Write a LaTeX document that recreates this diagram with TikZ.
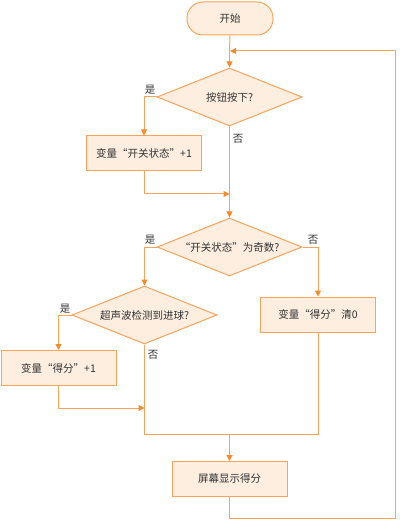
\documentclass[tikz,border=0pt]{standalone}
\usepackage{fontspec}
\setmainfont{Noto Sans CJK SC}
\usetikzlibrary{shapes.geometric,arrows.meta}
\definecolor{stk}{HTML}{F7A35C}
\definecolor{arr}{HTML}{F58A2C}
\definecolor{fil}{HTML}{FDEEE0}
\definecolor{txt}{HTML}{333333}
\begin{document}
\begin{tikzpicture}[x=1pt,y=-1pt,
  font=\fontsize{10.5}{12}\selectfont, text=txt,
  box/.style={draw=stk,fill=fil,line width=1pt,minimum width=115pt,minimum height=35pt,inner sep=0pt},
  term/.style={draw=stk,fill=fil,line width=1pt,rounded corners=16pt,minimum width=86pt,minimum height=33pt,inner sep=0pt},
  dia/.style={draw=stk,fill=fil,line width=1pt,diamond,aspect=2.5,minimum width=145pt,minimum height=58pt,inner sep=0pt},
  ln/.style={draw=stk,line width=1pt},
  ar/.style={ln,-{Triangle[length=6pt,width=6pt,color=arr]}},
  lab/.style={inner sep=0pt,font=\fontsize{10.5}{12}\selectfont}]
\useasboundingbox (0,0) rectangle (403,526);
\node[term] (start) at (230,18.5) {开始};
\node[dia] (d1) at (229.5,97) {按钮按下?};
\node[box] (b1) at (144,153.5) {变量“开关状态”+1};
\node[dia] (d2) at (229.5,247) {“开关状态”为奇数?};
\node[dia] (d3) at (144.5,315) {超声波检测到进球?};
\node[box] (b2) at (58.5,368) {变量“得分”+1};
\node[box] (b3) at (318,314.5) {变量“得分”清0};
\node[box] (b4) at (229.5,479) {屏幕显示得分};
\coordinate (j1) at (229.5,51);
\coordinate (j2) at (229.5,194);
\coordinate (j3) at (144.5,408);
\coordinate (j4) at (229.5,434);
\draw[ln] (start.south) -- (j1);
\draw[ar] (j1) -- (d1.north);
\draw[ar] (d1.west) -| (b1.north);
\draw[ln] (d1.south) -- (j2);
\draw[ar] (b1.south) |- (j2);
\draw[ar] (j2) -- (d2.north);
\draw[ar] (d2.west) -| (d3.north);
\draw[ar] (d2.east) -| (b3.north);
\draw[ar] (d3.west) -| (b2.north);
\draw[ln] (d3.south) -- (j3);
\draw[ar] (b2.south) |- (j3);
\draw[ln] (j3) |- (j4);
\draw[ln] (b3.south) |- (j4);
\draw[ar] (j4) -- (b4.north);
\draw[ar] (b4.south) -- (229.5,518) -- (395,518) -- (395,51) -- ([xshift=0.5pt]j1);
\node[lab] at (150,90) {是};
\node[lab] at (238,139) {否};
\node[lab] at (150,240) {是};
\node[lab] at (313,240) {否};
\node[lab] at (65,309) {是};
\node[lab] at (153,355) {否};
\end{tikzpicture}
\end{document}
